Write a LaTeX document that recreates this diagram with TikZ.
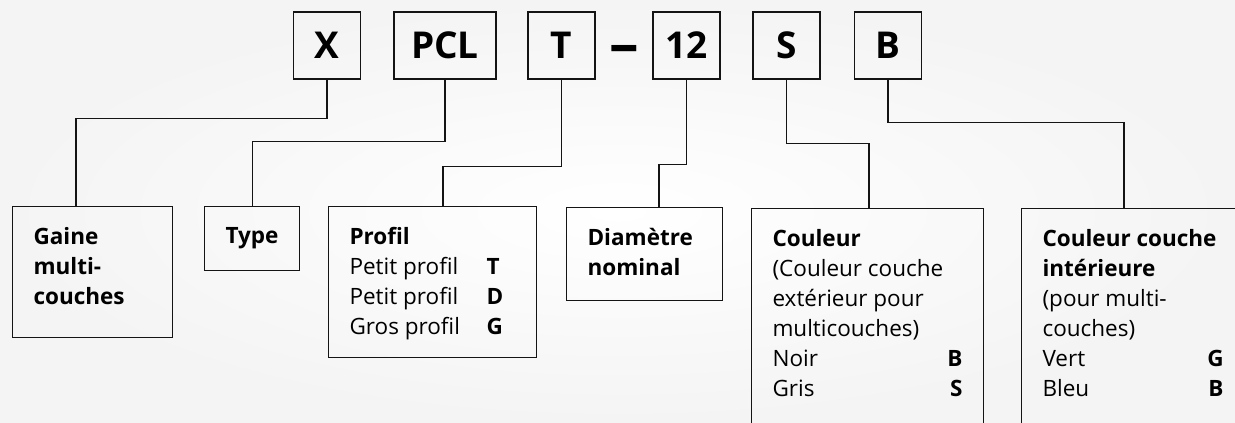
\documentclass[tikz,border=0pt]{standalone}
\usepackage{fontspec}
\setmainfont{Open Sans}
\usetikzlibrary{positioning, calc}
\definecolor{lineBlack}{RGB}{ 20, 20, 20}
\definecolor{bgEdge}   {RGB}{244,244,244}
\tikzset{
  %% big code letter box (top row)
  codebox/.style={
    rectangle, draw=lineBlack, line width=1.6pt,
    minimum width=67pt, minimum height=67pt, inner sep=0pt,
    font=\fontsize{37}{42}\selectfont\bfseries
  },
  %% explanation box (bottom row): #1 = text width, #2 = text height
  descbox/.style 2 args={
    rectangle, draw=lineBlack, line width=1.1pt,
    anchor=north west, inner xsep=21pt, inner ysep=21pt,
    font=\fontsize{22.5}{30}\selectfont,
    execute at begin node={\begin{minipage}[t][#2][t]{#1}},
    execute at end node={\end{minipage}}
  },
  %% elbow connector
  conn/.style={
    draw=lineBlack, line width=1.1pt
  }
}

\begin{document}
\begin{tikzpicture}[x=1pt, y=-1pt]

\useasboundingbox (0,0) rectangle (1235,423);
\shade[inner color=white, outer color=bgEdge] (0,0) rectangle (1235,423);

%% ═══════════════════════════════════════════════
%%  CODE ROW
%% ═══════════════════════════════════════════════

\node[codebox] (X)   at (327, 45.5)   {X};
\node[codebox, minimum width=102pt] (PCL) at (445, 45.5) {PCL};
\node[codebox] (T)   at (561.5, 45.5) {T};
\node[font=\fontsize{37}{42}\selectfont\bfseries, inner sep=0pt] (dash) at (624.5, 54.5) {\scalebox{1.6}[1.5]{–}};
\node[codebox] (D12) at (686.5, 45.5) {12};
\node[codebox] (S)   at (786.5, 45.5) {S};
\node[codebox] (B)   at (888, 45.5)   {B};

%% ═══════════════════════════════════════════════
%%  EXPLANATION BOXES
%% ═══════════════════════════════════════════════

\node[descbox={118pt}{89pt}] (gaine) at (12, 206) {
  \textbf{Gaine}\\
  \textbf{multi-}\\
  \textbf{couches}
};

\node[descbox={53pt}{22pt}] (type) at (204, 206) {
  \textbf{Type}
};

\node[descbox={166pt}{109pt}] (profil) at (328, 206) {
  \textbf{Profil}\\
  \makebox[137pt][l]{Petit profil}\textbf{T}\\
  \makebox[137pt][l]{Petit profil}\textbf{D}\\
  \makebox[137pt][l]{Gros profil}\textbf{G}
};

\node[descbox={114pt}{51pt}] (diam) at (566, 207) {
  \textbf{Diamètre}\\
  \textbf{nominal}
};

\node[descbox={190pt}{240pt}] (coul) at (751, 208) {
  \textbf{Couleur}\\
  (Couleur couche\\
  extérieur pour\\
  multicouches)\\
  Noir\hfill\textbf{B}\\
  Gris\hfill\textbf{S}
};

\node[descbox={181pt}{240pt}] (inner) at (1021, 208) {
  \textbf{Couleur couche}\\
  \textbf{intérieure}\\
  (pour multi-\\
  couches)\\
  Vert\hfill\textbf{G}\\
  Bleu\hfill\textbf{B}
};

%% ═══════════════════════════════════════════════
%%  CONNECTORS
%% ═══════════════════════════════════════════════

\draw[conn] (X.south)   -- ++(0,39) -| ([xshift=64pt]gaine.north west);
\draw[conn] (PCL.south) -- ++(0,62) -| (type.north);
\draw[conn] (T.south)   -- ++(0,87) -| ([xshift=115pt]profil.north west);
\draw[conn] (D12.south) -- ++(0,85) -| ([xshift=93pt]diam.north west);
\draw[conn] (S.south)   -- ++(0,64) -| ([xshift=118pt]coul.north west);
\draw[conn] (B.south)   -- ++(0,43) -| ([xshift=103pt]inner.north west);

\end{tikzpicture}
\end{document}
